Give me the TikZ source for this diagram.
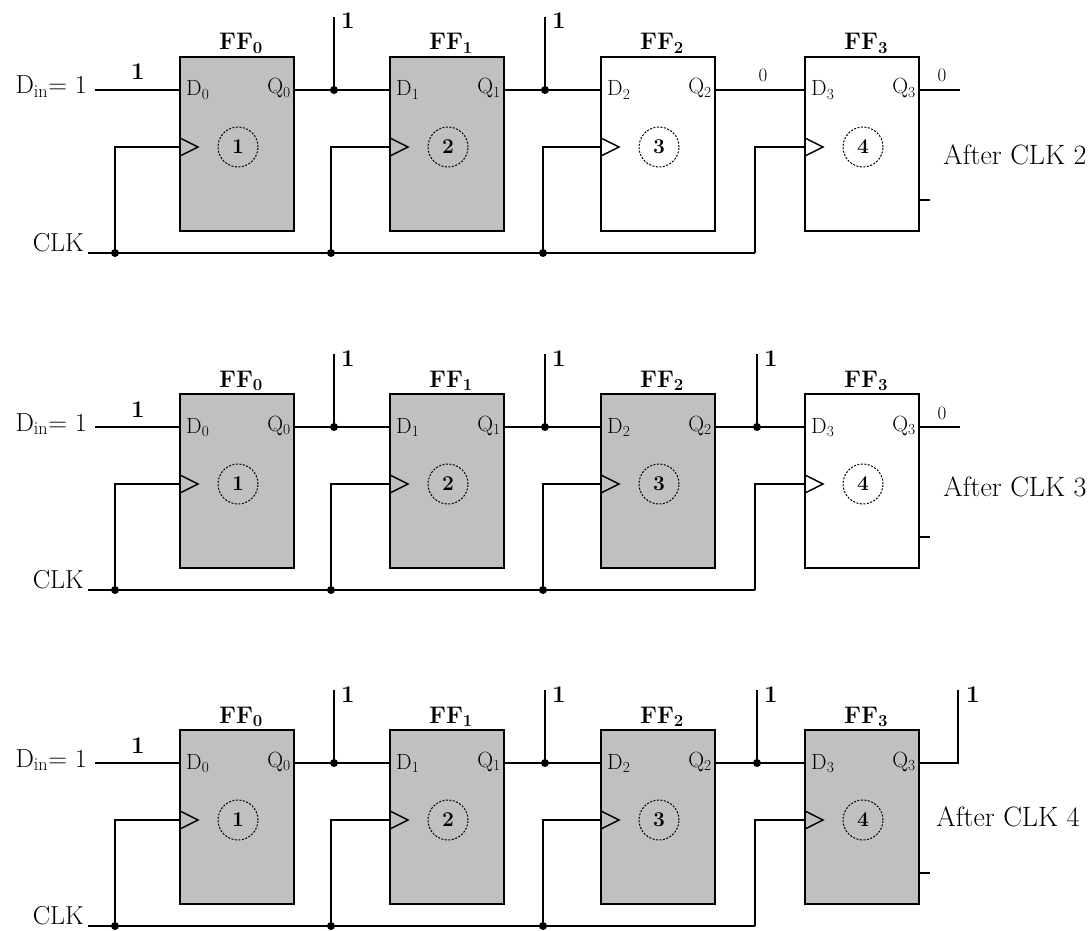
\documentclass[tikz,border=0pt]{standalone}
\usetikzlibrary{calc}
\definecolor{ffgray}{RGB}{192,192,192}
\tikzset{
  ffbox/.style={draw, line width=2.8pt, minimum width=114pt, minimum height=174pt, inner sep=0pt, outer sep=0pt, anchor=north west},
  wire/.style={line width=1.4pt},
  clktri/.style={line width=1.4pt, line join=miter},
  jdot/.style={circle, fill, inner sep=0pt, minimum size=8pt},
  numcirc/.style={circle, draw, dash pattern=on 2pt off 1.5pt, line width=1pt, minimum size=40pt, inner sep=0pt, font=\fontsize{21}{22}\selectfont\bfseries},
  fflabel/.style={font=\fontsize{24}{26}\selectfont\bfseries, anchor=base, inner sep=0pt},
  pinlabel/.style={font=\fontsize{22}{24}\selectfont, inner sep=0pt},
  onelabel/.style={font=\fontsize{24}{26}\selectfont\bfseries, anchor=base west, inner sep=0pt},
  zerolabel/.style={font=\fontsize{19}{20}\selectfont, anchor=base, inner sep=0pt},
  sidelabel/.style={font=\fontsize{28}{30}\selectfont, inner sep=0pt},
  leftlabel/.style={font=\fontsize{26}{28}\selectfont, anchor=base east, inner sep=0pt},
}
\begin{document}
\begin{tikzpicture}[x=1pt,y=-1pt]
\useasboundingbox (0,0) rectangle (1089,931);
\foreach \r/\oy/\ax/\ay in {0/0/1015/155, 1/337/1015/150, 2/673/1008/144}{
  \pgfmathtruncatemacro\clkn{\r+2}
  % flip-flops
  \foreach \i/\xl/\cx in {0/180/115,1/390/331,2/601/543,3/805/755}{
    \ifnum\i<\numexpr\r+2\relax \def\fc{ffgray}\else\def\fc{white}\fi
    \node[ffbox, fill=\fc] (ff\r\i) at (\xl,\oy+57) {};
    \node[fflabel] (fl\r\i) at (\xl+61,\oy+50) {FF\textsubscript{\i}};
    \node[pinlabel, anchor=base west] (dl\r\i) at (\xl+6,\oy+96) {D\textsubscript{\i}};
    \node[pinlabel, anchor=base east] (ql\r\i) at (\xl+111,\oy+94) {Q\textsubscript{\i}};
    \node[numcirc] (nc\r\i) at (\xl+58,\oy+147) {\the\numexpr\i+1\relax};
    \draw[clktri] (\xl,\oy+138) -- (\xl+18,\oy+147) -- (\xl,\oy+156);
    \coordinate (d\r\i) at (\xl,\oy+90);
    \coordinate (q\r\i) at (\xl+114,\oy+90);
    \coordinate (cin\r\i) at (\xl,\oy+147);
    \coordinate (ck\r\i) at (\cx,\oy+253);
    \draw[wire] (cin\r\i) -| (ck\r\i);
    \ifnum\i<3 \node[jdot] at (ck\r\i) {};\fi
  }
  % clock line
  \node[leftlabel] (clk\r) at (84,\oy+251) {CLK};
  \coordinate (clks\r) at (88,\oy+253);
  \draw[wire] (clks\r) -- (ck\r3);
  % data input
  \node[leftlabel] (din\r) at (87,\oy+94) {D\textsubscript{in}= 1};
  \coordinate (dins\r) at (95,\oy+90);
  \draw[wire] (dins\r) -- (d\r0);
  \node[onelabel] (dinv\r) at (131,\oy+80) {1};
  % connections between stages
  \foreach \i/\j/\jx in {0/1/334,1/2/545,2/3/757}{
    \draw[wire] (q\r\i) -- (d\r\j);
    \ifnum\i<\numexpr\r+2\relax
      \node[jdot] (j\r\i) at (\jx,\oy+90) {};
      \coordinate (jt\r\i) at (\jx,\oy+17);
      \draw[wire] (j\r\i.center) -- (jt\r\i);
      \node[onelabel] (jl\r\i) at (\jx+7,\oy+29) {1};
    \else
      \node[zerolabel] (jz\r\i) at (763,\oy+82) {0};
    \fi
  }
  % output of FF3
  \ifnum\r=2
    \coordinate (qo\r) at (958,\oy+17);
    \draw[wire] (q\r3) -| (qo\r);
    \node[onelabel] (qol\r) at (966,\oy+29) {1};
  \else
    \coordinate (qo\r) at (960,\oy+90);
    \draw[wire] (q\r3) -- (qo\r);
    \node[zerolabel] (qol\r) at (942,\oy+82) {0};
  \fi
  \coordinate (sa\r) at (919,\oy+200);
  \coordinate (sb\r) at (930,\oy+200);
  \draw[wire] (sa\r) -- (sb\r);
  \node[sidelabel] (after\r) at (\ax,\oy+\ay) {After CLK \clkn};
}
\end{tikzpicture}
\end{document}
